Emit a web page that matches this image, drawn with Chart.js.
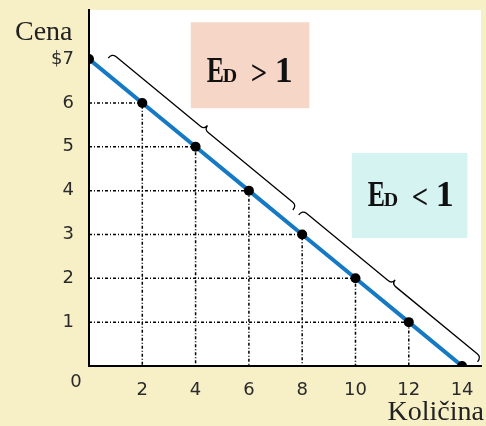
<!DOCTYPE html>
<html>
<head>
<meta charset="utf-8">
<script src="https://cdn.jsdelivr.net/npm/chart.js@4/dist/chart.umd.min.js"></script>
<style>
  body { margin: 0; background: #f7efc6; }
  #wrap { width: 486px; height: 426px; }
</style>
</head>
<body>
<div id="wrap"><canvas id="graf" width="486" height="426"></canvas></div>
<script>
// demand schedule
const kolicina = [0, 2, 4, 6, 8, 10, 12, 14];
const cena = [7, 6, 5, 4, 3, 2, 1, 0];
const yTicks = [1, 2, 3, 4, 5, 6, 7];
const xTicks = [0, 2, 4, 6, 8, 10, 12, 14];
// stretches of the demand curve covered by the braces (quantity from/to)
const zagrade = [[0.41, 7.34], [7.56, 14.27]];
const oznake = ['>', '<'];

const krema = '#f7efc6';
const plava = '#1579c4';

// elasticity boxes, corners in data units
const kutije = [
    {x0: 3.82, x1: 8.27, y0: 7.84, y1: 5.88, boja: '#f6d6c6', op: oznake[0], base: 60},
    {x0: 9.86, x1: 14.2, y0: 4.86, y1: 2.92, boja: '#d5f3f1', op: oznake[1], base: 53}
];

const tocke = kolicina.map((q, i) => ({x: q, y: cena[i]}));

const dropLines = [];
tocke.forEach(p => {
    if (p.x === 0 || p.y === 0) return;
    dropLines.push({
        data: [{x: 0, y: p.y}, {x: p.x, y: p.y}, {x: p.x, y: 0}],
        borderColor: '#000',
        borderWidth: 1.5,
        borderDash: [3, 2, 1, 2],
        pointRadius: 0,
        fill: false,
        tension: 0
    });
});

function slovo(ctx, t, x, y, size, sx) {
    ctx.save();
    ctx.translate(x, y);
    ctx.scale(sx, 1);
    ctx.font = 'bold ' + size + 'px "Liberation Serif"';
    ctx.fillText(t, 0, 0);
    ctx.restore();
}

const pozadina = {
    id: 'pozadina',
    beforeDraw(chart) {
        const {ctx, chartArea: a} = chart;
        ctx.save();
        ctx.fillStyle = krema;
        ctx.fillRect(0, 0, chart.width, chart.height);
        ctx.fillStyle = '#fff';
        ctx.fillRect(a.left, a.top, a.right - a.left, a.bottom - a.top);
        ctx.restore();
    },
    beforeDatasetsDraw(chart) {
        const {ctx, scales: {x, y}} = chart;
        ctx.save();
        kutije.forEach(k => {
            const l = x.getPixelForValue(k.x0), r = x.getPixelForValue(k.x1);
            const t = y.getPixelForValue(k.y0), b = y.getPixelForValue(k.y1);
            ctx.fillStyle = k.boja;
            ctx.fillRect(l, t, r - l, b - t);
            ctx.fillStyle = '#111';
            ctx.textBaseline = 'alphabetic';
            const by = t + k.base;
            slovo(ctx, 'E', l + 16, by, 36, 0.72);
            slovo(ctx, 'D', l + 32, by, 19, 1.05);
            slovo(ctx, k.op, l + 60, by + 2, 34, 0.85);
            slovo(ctx, '1', l + 84, by, 36, 1.0);
        });
        ctx.restore();
    },
    afterDraw(chart) {
        const {ctx, scales: {x, y}} = chart;
        ctx.save();
        // braces above the demand curve
        ctx.strokeStyle = '#000';
        ctx.lineWidth = 1.3;
        zagrade.forEach(([q0, q1]) => {
            const p0 = {x: x.getPixelForValue(q0), y: y.getPixelForValue(7 - q0 / 2)};
            const p1 = {x: x.getPixelForValue(q1), y: y.getPixelForValue(7 - q1 / 2)};
            const len = Math.hypot(p1.x - p0.x, p1.y - p0.y);
            const d = {x: (p1.x - p0.x) / len, y: (p1.y - p0.y) / len};
            const n = {x: d.y, y: -d.x};
            const h = 19;
            const pt = (base, along, off) => [base.x + d.x * along + n.x * off, base.y + d.y * along + n.y * off];
            const m = {x: (p0.x + p1.x) / 2, y: (p0.y + p1.y) / 2};
            ctx.beginPath();
            ctx.moveTo(...pt(p0, 0, h - 6));
            ctx.quadraticCurveTo(...pt(p0, 0, h), ...pt(p0, 5, h));
            ctx.lineTo(...pt(m, -5, h));
            ctx.quadraticCurveTo(...pt(m, 0, h), ...pt(m, 0, h + 5));
            ctx.quadraticCurveTo(...pt(m, 0, h), ...pt(m, 5, h));
            ctx.lineTo(...pt(p1, -5, h));
            ctx.quadraticCurveTo(...pt(p1, 0, h), ...pt(p1, 0, h - 6));
            ctx.stroke();
        });
        // axis titles and origin label
        ctx.fillStyle = '#222';
        ctx.font = '28px "Liberation Serif"';
        ctx.textAlign = 'left';
        ctx.fillText('Cena', 15, 40);
        ctx.textAlign = 'right';
        ctx.fillText('Količina', 484, 420);
        ctx.font = '18px "DejaVu Sans"';
        ctx.fillStyle = '#2a2a2a';
        ctx.textAlign = 'center';
        ctx.textBaseline = 'middle';
        ctx.fillText('0', x.getPixelForValue(0) - 13, 382);
        ctx.restore();
    }
};

new Chart(document.getElementById('graf'), {
    type: 'line',
    data: {
        datasets: [{
            data: tocke,
            borderColor: plava,
            borderWidth: 4,
            pointRadius: 5,
            pointBackgroundColor: '#000',
            pointBorderColor: '#000',
            pointBorderWidth: 0,
            fill: false,
            tension: 0
        }, ...dropLines]
    },
    options: {
        responsive: false,
        animation: false,
        layout: {padding: {top: 10, right: 0, left: 0, bottom: 0}},
        plugins: {legend: {display: false}, tooltip: {enabled: false}},
        scales: {
            x: {
                type: 'linear',
                min: 0,
                max: 14.71,
                afterBuildTicks: s => { s.ticks = xTicks.map(v => ({value: v})); },
                afterFit: s => { s.height = 60; s.paddingLeft = 0; s.paddingRight = 0; },
                grid: {display: false},
                border: {display: true, color: '#000', width: 2},
                ticks: {
                    padding: 6,
                    color: '#2a2a2a',
                    font: {family: 'DejaVu Sans', size: 18},
                    callback: v => v === 0 ? '' : String(v)
                }
            },
            y: {
                type: 'linear',
                min: 0,
                max: 8.12,
                afterBuildTicks: s => { s.ticks = yTicks.map(v => ({value: v})); },
                afterFit: s => { s.width = 89; s.paddingTop = 0; s.paddingBottom = 0; },
                grid: {display: false},
                border: {display: true, color: '#000', width: 2},
                ticks: {
                    padding: 7,
                    color: '#2a2a2a',
                    font: {family: 'DejaVu Sans', size: 18},
                    callback: v => v === 7 ? '$7' : String(v)
                }
            }
        }
    },
    plugins: [pozadina]
});
</script>
</body>
</html>
